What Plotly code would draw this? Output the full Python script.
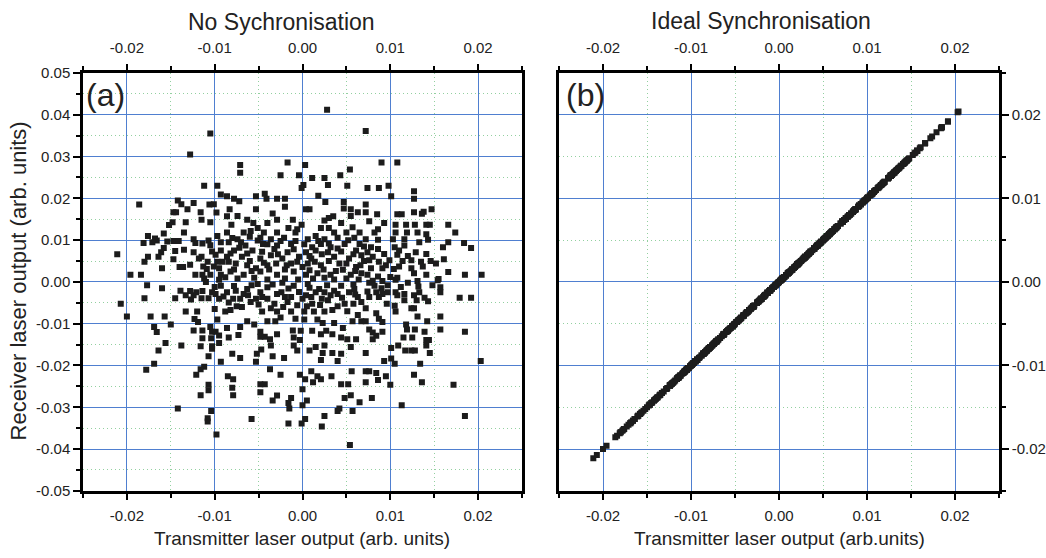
import plotly.graph_objects as go

# (transmitter output, receiver output) pairs for the unsynchronised case
points_a = [
    (-0.0105,0.0355),(-0.0128,0.0305),(-0.0112,0.0230),(-0.0097,0.0230),(-0.0093,0.0209),(-0.0186,0.0185),
    (-0.0142,0.0195),(-0.0138,0.0186),(-0.0124,0.0189),(-0.0106,0.0185),(-0.0101,0.0186),(-0.0147,0.0167),
    (-0.0144,0.0167),(-0.0131,0.0174),(-0.0116,0.0167),(-0.0098,0.0166),(-0.0148,0.0143),(-0.0133,0.0143),
    (-0.0115,0.0149),(-0.0105,0.0143),(-0.0152,0.0136),(-0.0135,0.0118),(-0.0158,0.0116),(-0.0176,0.0110),
    (-0.0168,0.0104),(-0.0166,0.0099),(-0.0181,0.0093),(-0.0171,0.0095),(-0.0154,0.0097),(-0.0147,0.0098),
    (-0.0141,0.0098),(-0.0124,0.0102),(-0.0122,0.0093),(-0.0114,0.0092),(-0.0107,0.0099),(-0.0105,0.0088),
    (-0.0097,0.0110),(-0.0093,0.0095),(-0.0158,0.0081),(-0.0145,0.0074),(-0.0135,0.0077),(-0.0124,0.0071),
    (-0.0161,0.0071),(-0.0211,0.0066),(-0.0176,0.0060),(-0.0164,0.0060),(-0.0118,0.0056),(-0.0103,0.0073),
    (-0.0099,0.0065),(-0.0093,0.0075),(-0.0180,0.0048),(-0.0147,0.0054),(-0.0140,0.0036),(-0.0136,0.0036),
    (-0.0160,0.0033),(-0.0128,0.0041),(-0.0113,0.0037),(-0.0109,0.0031),(-0.0101,0.0037),(-0.0095,0.0033),
    (-0.0196,0.0017),(-0.0184,0.0017),(-0.0122,0.0017),(-0.0114,0.0017),(-0.0105,0.0017),(-0.0093,0.0017),
    (-0.0091,0.0048),(-0.0097,0.0048),
    (0.0028,0.0412),(-0.0017,0.0286),(-0.0071,0.0280),(-0.0071,0.0261),(0.0003,0.0280),(0.0054,0.0269),
    (-0.0025,0.0255),(-0.0004,0.0255),(0.0011,0.0249),(0.0025,0.0249),(0.0043,0.0255),(0.0001,0.0232),
    (-0.0001,0.0225),(0.0029,0.0232),(0.0051,0.0230),(-0.0086,0.0205),(-0.0053,0.0205),(-0.0043,0.0211),
    (0.0018,0.0206),(-0.0072,0.0193),(-0.0078,0.0199),(-0.0041,0.0199),(-0.0029,0.0199),(-0.0020,0.0199),
    (-0.0020,0.0180),(0.0026,0.0191),(0.0047,0.0191),(0.0047,0.0176),(-0.0053,0.0174),(0.0004,0.0174),
    (0.0008,0.0174),(0.0055,0.0174),(0.0063,0.0167),(-0.0083,0.0174),(-0.0034,0.0164),(-0.0086,0.0157),
    (-0.0074,0.0158),(0.0035,0.0157),(0.0055,0.0158),(-0.0063,0.0149),(-0.0029,0.0149),(-0.0011,0.0149),
    (0.0025,0.0147),(0.0030,0.0153),(-0.0056,0.0141),(-0.0040,0.0141),(-0.0001,0.0137),(0.0044,0.0141),
    (-0.0081,0.0137),(-0.0051,0.0129),(-0.0016,0.0129),(-0.0006,0.0126),(0.0021,0.0129),(0.0030,0.0129),
    (0.0057,0.0131),(-0.0086,0.0118),(-0.0067,0.0118),(-0.0059,0.0122),(-0.0044,0.0118),(-0.0029,0.0118),
    (-0.0008,0.0118),(0.0015,0.0110),(0.0036,0.0118),(0.0050,0.0118),(0.0065,0.0118),(-0.0074,0.0102),
    (-0.0051,0.0099),(-0.0036,0.0102),(-0.0021,0.0106),(0.0006,0.0102),(0.0025,0.0102),(0.0040,0.0106),
    (0.0059,0.0106),(-0.0084,0.0095),(-0.0065,0.0087),(-0.0045,0.0091),(-0.0029,0.0087),(-0.0013,0.0091),
    (0.0011,0.0083),(0.0021,0.0091),(0.0032,0.0083),(0.0048,0.0091),(0.0065,0.0091),(-0.0078,0.0075),
    (-0.0057,0.0075),(-0.0032,0.0079),(-0.0017,0.0071),(0.0004,0.0071),(0.0015,0.0075),(0.0029,0.0071),
    (0.0044,0.0073),(0.0061,0.0075),(-0.0086,0.0060),(-0.0069,0.0060),(-0.0048,0.0056),(-0.0036,0.0064),
    (-0.0023,0.0056),(-0.0004,0.0060),(0.0010,0.0056),(0.0036,0.0060),(0.0053,0.0056),(0.0067,0.0064),
    (-0.0076,0.0044),(-0.0063,0.0040),(-0.0053,0.0033),(-0.0040,0.0040),(-0.0013,0.0044),(0.0000,0.0036),
    (0.0006,0.0044),(0.0021,0.0040),(0.0042,0.0044),(0.0061,0.0036),(-0.0082,0.0025),(-0.0067,0.0017),
    (-0.0048,0.0025),(-0.0029,0.0017),(-0.0010,0.0025),(0.0004,0.0017),(0.0017,0.0021),(0.0032,0.0017),
    (0.0046,0.0029),(0.0055,0.0017),(0.0067,0.0021),(-0.0088,0.0011),(0.0025,0.0010),
    (0.0072,0.0361),(0.0090,0.0286),(0.0108,0.0286),(0.0074,0.0225),(0.0087,0.0225),(0.0098,0.0230),
    (0.0101,0.0205),(0.0127,0.0217),(0.0127,0.0199),(0.0072,0.0185),(0.0072,0.0167),(0.0085,0.0162),
    (0.0108,0.0162),(0.0113,0.0162),(0.0127,0.0167),(0.0136,0.0163),(0.0138,0.0168),(0.0147,0.0174),
    (0.0076,0.0145),(0.0093,0.0141),(0.0106,0.0137),(0.0118,0.0137),(0.0128,0.0137),(0.0141,0.0137),
    (0.0145,0.0137),(0.0166,0.0137),(0.0086,0.0126),(0.0082,0.0118),(0.0106,0.0118),(0.0119,0.0118),
    (0.0131,0.0118),(0.0141,0.0114),(0.0174,0.0118),(0.0072,0.0102),(0.0086,0.0101),(0.0103,0.0102),
    (0.0116,0.0102),(0.0143,0.0101),(0.0078,0.0083),(0.0086,0.0079),(0.0105,0.0083),(0.0116,0.0087),
    (0.0133,0.0095),(0.0166,0.0095),(0.0160,0.0083),(0.0184,0.0093),(0.0192,0.0081),(0.0074,0.0071),
    (0.0093,0.0067),(0.0108,0.0065),(0.0129,0.0071),(0.0141,0.0067),(0.0076,0.0052),(0.0087,0.0048),
    (0.0099,0.0052),(0.0114,0.0050),(0.0124,0.0052),(0.0135,0.0048),(0.0146,0.0050),(0.0152,0.0044),
    (0.0161,0.0054),(0.0078,0.0033),(0.0091,0.0033),(0.0104,0.0031),(0.0110,0.0037),(0.0124,0.0033),
    (0.0137,0.0037),(0.0166,0.0024),(0.0185,0.0017),(0.0204,0.0017),(0.0074,0.0017),(0.0086,0.0013),
    (0.0108,0.0010),(0.0127,0.0021),(0.0141,0.0017),(0.0155,0.0007),
    (-0.0177,-0.0008),(-0.0160,-0.0015),(-0.0180,-0.0039),(-0.0207,-0.0052),(-0.0200,-0.0083),(-0.0173,-0.0083),
    (-0.0157,-0.0083),(-0.0169,-0.0108),(-0.0166,-0.0120),(-0.0150,-0.0102),(-0.0156,-0.0146),(-0.0164,-0.0164),
    (-0.0138,-0.0152),(-0.0169,-0.0196),(-0.0178,-0.0210),(-0.0145,-0.0039),(-0.0139,-0.0021),(-0.0133,-0.0032),
    (-0.0128,-0.0022),(-0.0127,-0.0042),(-0.0124,-0.0032),(-0.0121,-0.0025),(-0.0114,-0.0022),(-0.0115,-0.0039),
    (-0.0107,-0.0039),(-0.0103,-0.0025),(-0.0099,-0.0029),(-0.0093,-0.0009),(-0.0095,-0.0040),(-0.0133,-0.0071),
    (-0.0120,-0.0071),(-0.0100,-0.0065),(-0.0123,-0.0089),(-0.0119,-0.0096),(-0.0097,-0.0090),(-0.0105,-0.0108),
    (-0.0124,-0.0116),(-0.0114,-0.0116),(-0.0103,-0.0119),(-0.0099,-0.0119),(-0.0114,-0.0135),(-0.0104,-0.0135),
    (-0.0095,-0.0128),(-0.0095,-0.0146),(-0.0116,-0.0154),(-0.0103,-0.0154),(-0.0103,-0.0160),(-0.0107,-0.0178),
    (-0.0093,-0.0191),(-0.0112,-0.0203),(-0.0116,-0.0209),(-0.0121,-0.0222),(-0.0107,-0.0246),(-0.0107,-0.0259),
    (-0.0116,-0.0271),(-0.0142,-0.0303),(-0.0104,-0.0309),(-0.0108,-0.0326),(-0.0108,-0.0334),(-0.0098,-0.0365),
    (-0.0086,-0.0025),(-0.0076,-0.0021),(-0.0084,-0.0049),(-0.0071,-0.0040),(-0.0067,-0.0029),(-0.0063,-0.0017),
    (-0.0069,-0.0060),(-0.0059,-0.0048),(-0.0053,-0.0040),(-0.0051,-0.0005),(-0.0048,-0.0025),(-0.0040,-0.0013),
    (-0.0040,-0.0040),(-0.0032,-0.0052),(-0.0029,-0.0029),(-0.0024,-0.0025),(-0.0023,-0.0002),(-0.0017,-0.0048),
    (-0.0013,-0.0036),(-0.0010,-0.0009),(-0.0006,-0.0056),(0.0000,-0.0040),(0.0004,-0.0032),(0.0006,-0.0005),
    (0.0011,-0.0052),(0.0015,-0.0025),(0.0019,-0.0017),(0.0025,-0.0025),(0.0029,-0.0044),(0.0032,-0.0032),
    (0.0036,-0.0021),(0.0040,-0.0029),(0.0044,-0.0009),(0.0048,-0.0052),(0.0053,-0.0025),(0.0059,-0.0017),
    (0.0063,-0.0036),(0.0067,-0.0048),(-0.0088,-0.0071),(-0.0082,-0.0067),(-0.0046,-0.0071),(-0.0036,-0.0063),
    (-0.0029,-0.0071),(-0.0013,-0.0071),(0.0002,-0.0071),(0.0013,-0.0071),(0.0025,-0.0071),(0.0034,-0.0067),
    (0.0051,-0.0070),(0.0063,-0.0079),(-0.0055,-0.0102),(-0.0063,-0.0094),(-0.0040,-0.0094),(-0.0031,-0.0094),
    (-0.0025,-0.0085),(-0.0008,-0.0088),(0.0002,-0.0090),(0.0017,-0.0090),(0.0023,-0.0098),(0.0036,-0.0098),
    (0.0057,-0.0094),(0.0067,-0.0094),(-0.0086,-0.0110),(-0.0071,-0.0108),(-0.0084,-0.0133),(-0.0073,-0.0127),
    (-0.0048,-0.0119),(-0.0048,-0.0131),(-0.0043,-0.0131),(-0.0037,-0.0137),(-0.0029,-0.0125),(-0.0011,-0.0116),
    (-0.0002,-0.0117),(-0.0010,-0.0133),(-0.0003,-0.0139),(0.0011,-0.0117),(0.0021,-0.0125),(0.0027,-0.0117),
    (0.0034,-0.0125),(0.0044,-0.0133),(0.0051,-0.0137),(0.0061,-0.0137),(0.0046,-0.0110),(-0.0036,-0.0152),
    (-0.0047,-0.0162),(-0.0010,-0.0152),(-0.0006,-0.0164),(0.0008,-0.0164),(0.0015,-0.0156),(0.0025,-0.0152),
    (0.0055,-0.0156),(-0.0080,-0.0172),(-0.0071,-0.0182),(-0.0052,-0.0172),(-0.0053,-0.0191),(-0.0034,-0.0178),
    (-0.0021,-0.0182),(0.0023,-0.0170),(0.0034,-0.0170),(0.0044,-0.0172),(0.0021,-0.0187),(0.0040,-0.0189),
    (-0.0037,-0.0209),(-0.0025,-0.0222),(-0.0003,-0.0222),(0.0010,-0.0214),(0.0003,-0.0233),(0.0012,-0.0240),
    (0.0017,-0.0226),(0.0021,-0.0233),(0.0033,-0.0226),(0.0056,-0.0214),(-0.0085,-0.0226),(-0.0079,-0.0233),
    (-0.0080,-0.0253),(-0.0079,-0.0271),(-0.0048,-0.0245),(-0.0043,-0.0245),(-0.0048,-0.0264),(0.0044,-0.0245),
    (0.0052,-0.0245),(0.0000,-0.0257),(-0.0034,-0.0284),(-0.0029,-0.0272),(-0.0013,-0.0278),(-0.0016,-0.0290),
    (0.0005,-0.0284),(0.0000,-0.0295),(0.0048,-0.0278),(0.0055,-0.0271),(0.0065,-0.0288),(-0.0015,-0.0303),
    (0.0042,-0.0303),(0.0040,-0.0309),(0.0057,-0.0309),(0.0025,-0.0321),(-0.0058,-0.0328),(0.0003,-0.0328),
    (-0.0016,-0.0339),(-0.0001,-0.0339),(0.0022,-0.0346),(0.0054,-0.0390),
    (0.0076,-0.0002),(0.0082,-0.0009),(0.0091,0.0002),(0.0097,-0.0008),(0.0106,0.0005),(0.0120,-0.0002),
    (0.0131,0.0002),(0.0132,-0.0011),(0.0148,-0.0008),(0.0157,-0.0013),(0.0157,-0.0025),(0.0154,0.0004),
    (0.0074,-0.0023),(0.0084,-0.0025),(0.0091,-0.0029),(0.0097,-0.0025),(0.0076,-0.0036),(0.0087,-0.0036),
    (0.0106,-0.0025),(0.0108,-0.0032),(0.0116,-0.0029),(0.0116,-0.0044),(0.0127,-0.0032),(0.0130,-0.0044),
    (0.0133,-0.0025),(0.0139,-0.0038),(0.0143,-0.0046),(0.0179,-0.0038),(0.0192,-0.0038),(0.0096,-0.0052),
    (0.0105,-0.0057),(0.0106,-0.0071),(0.0072,-0.0063),(0.0124,-0.0063),(0.0127,-0.0063),(0.0131,-0.0083),
    (0.0157,-0.0083),(0.0084,-0.0075),(0.0087,-0.0088),(0.0091,-0.0096),(0.0072,-0.0094),(0.0142,-0.0094),
    (0.0118,-0.0102),(0.0076,-0.0114),(0.0080,-0.0121),(0.0084,-0.0129),(0.0080,-0.0137),(0.0091,-0.0119),
    (0.0119,-0.0114),(0.0128,-0.0114),(0.0139,-0.0119),(0.0157,-0.0114),(0.0185,-0.0119),(0.0115,-0.0133),
    (0.0125,-0.0133),(0.0141,-0.0139),(0.0144,-0.0139),(0.0109,-0.0152),(0.0141,-0.0152),(0.0101,-0.0158),
    (0.0117,-0.0164),(0.0124,-0.0164),(0.0128,-0.0164),(0.0145,-0.0170),(0.0072,-0.0170),(0.0093,-0.0189),
    (0.0101,-0.0183),(0.0105,-0.0196),(0.0134,-0.0196),(0.0203,-0.0189),(0.0072,-0.0214),(0.0076,-0.0214),
    (0.0084,-0.0218),(0.0086,-0.0235),(0.0095,-0.0226),(0.0072,-0.0240),(0.0100,-0.0246),(0.0127,-0.0222),
    (0.0136,-0.0240),(0.0172,-0.0246),(0.0079,-0.0278),(0.0113,-0.0295),(0.0185,-0.0321),
    # points estimated inside the dense central band
    (-0.0080,0.0105),(-0.0070,0.0095),(-0.0060,0.0108),(-0.0048,0.0106),(-0.0040,0.0090),(-0.0025,0.0098),
    (-0.0008,0.0098),(0.0002,0.0090),(0.0018,0.0098),(0.0030,0.0092),(0.0052,0.0100),(0.0070,0.0085),
    (-0.0082,0.0068),(-0.0072,0.0082),(-0.0063,0.0068),(-0.0046,0.0072),(-0.0028,0.0066),(-0.0010,0.0078),
    (0.0008,0.0062),(0.0022,0.0066),(0.0040,0.0080),(0.0058,0.0066),(0.0070,0.0050),(-0.0084,0.0048),
    (-0.0060,0.0050),(-0.0044,0.0046),(-0.0030,0.0044),(-0.0018,0.0040),(-0.0006,0.0048),(0.0014,0.0048),
    (0.0030,0.0050),(0.0050,0.0044),(0.0066,0.0040),(-0.0078,0.0030),(-0.0058,0.0026),(-0.0038,0.0030),
    (-0.0020,0.0030),(0.0008,0.0028),(0.0024,0.0030),(0.0038,0.0026),(0.0060,0.0026),(-0.0074,0.0008),
    (-0.0055,0.0010),(-0.0040,0.0006),(-0.0020,0.0008),(-0.0005,0.0006),(0.0012,0.0008),(0.0036,0.0006),
    (0.0050,0.0008),(0.0064,0.0006),(-0.0078,-0.0010),(-0.0058,-0.0008),(-0.0034,-0.0006),(-0.0016,-0.0016),
    (0.0008,-0.0014),(0.0028,-0.0008),(0.0058,-0.0006),(-0.0090,-0.0035),(-0.0079,-0.0040),(-0.0062,-0.0032),
    (-0.0046,-0.0036),(-0.0020,-0.0036),(-0.0004,-0.0024),(0.0010,-0.0036),(0.0022,-0.0040),(0.0045,-0.0038),
    (0.0060,-0.0030),(-0.0075,-0.0058),(-0.0050,-0.0054),(-0.0022,-0.0060),(0.0005,-0.0058),(0.0020,-0.0055),
    (0.0040,-0.0058),(0.0058,-0.0052),(-0.0110,0.0000),(-0.0100,-0.0012),(-0.0112,0.0008),(-0.0095,0.0005),
    (0.0080,0.0003),(0.0090,-0.0015),(0.0100,0.0012),(0.0112,-0.0012),(-0.0115,0.0060),(-0.0108,0.0048),
    (0.0080,0.0060),(0.0095,0.0040),(0.0120,0.0062),(0.0110,0.0075),
]

transmitter_a = [p[0] for p in points_a]
receiver_a = [p[1] for p in points_a]

# Ideal synchronisation: the receiver output equals the transmitter output
transmitter_b = transmitter_a
receiver_b = transmitter_a

x_ticks = [-0.02, -0.01, 0.0, 0.01, 0.02]
x_tick_labels = ["-0.02", "-0.01", "0.00", "0.01", "0.02"]
x_minor = [-0.025, -0.015, -0.005, 0.005, 0.015, 0.025]
ya_ticks = [0.05, 0.04, 0.03, 0.02, 0.01, 0.0, -0.01, -0.02, -0.03, -0.04, -0.05]
ya_tick_labels = ["0.05", "0.04", "0.03", "0.02", "0.01", "0.00", "-0.01", "-0.02", "-0.03", "-0.04", "-0.05"]
ya_minor = [0.045, 0.035, 0.025, 0.015, 0.005, -0.005, -0.015, -0.025, -0.035, -0.045]
yb_ticks = [0.02, 0.01, 0.0, -0.01, -0.02]
yb_tick_labels = ["0.02", "0.01", "0.00", "-0.01", "-0.02"]
yb_minor = [0.025, 0.015, 0.005, -0.005, -0.015, -0.025]

W, H = 1046, 558
FONT = "Liberation Sans, Arial, sans-serif"
MAJOR = "#4f7fd0"
MINOR = "#93d0a0"

def px(x):
    return x / W

def py(y):
    return 1 - y / H

marker = dict(symbol="square", size=6, color="#1c1c1c", line=dict(width=0))

fig = go.Figure()
fig.add_trace(go.Scatter(x=transmitter_a, y=receiver_a, mode="markers", marker=marker,
                         xaxis="x", yaxis="y", showlegend=False, hoverinfo="skip"))
fig.add_trace(go.Scatter(x=transmitter_b, y=receiver_b, mode="markers", marker=marker,
                         xaxis="x2", yaxis="y2", showlegend=False, hoverinfo="skip"))
# invisible carriers so that the top (mirrored) labelled axes are drawn
fig.add_trace(go.Scatter(x=[0], y=[0], mode="markers", marker=dict(opacity=0),
                         xaxis="x3", yaxis="y", showlegend=False, hoverinfo="skip"))
fig.add_trace(go.Scatter(x=[0], y=[0], mode="markers", marker=dict(opacity=0),
                         xaxis="x4", yaxis="y2", showlegend=False, hoverinfo="skip"))

tickfont = dict(family=FONT, size=15, color="#222")

def minor(vals, grid):
    d = dict(tickmode="array", tickvals=vals, ticks="outside", ticklen=4, tickwidth=2,
             tickcolor="black", showgrid=grid)
    if grid:
        d.update(gridcolor=MINOR, griddash="1px,3px", gridwidth=1)
    return d

def xbase(domain, standoff):
    return dict(domain=domain, range=[-0.025, 0.025], tickmode="array", tickvals=x_ticks,
                ticktext=x_tick_labels, ticks="outside", ticklen=6, tickwidth=2,
                tickcolor="black", showline=True, linecolor="black", linewidth=2.5,
                zeroline=False, tickfont=tickfont, fixedrange=True, ticklabelstandoff=standoff)

dom_a = [px(83), px(522)]
dom_b = [px(559), px(999)]
dom_y = [py(497), py(66)]

xa = xbase(dom_a, 3); xa.update(anchor="y", side="bottom", mirror=True, showgrid=True,
                                gridcolor=MAJOR, gridwidth=1, minor=minor(x_minor, True))
xa_top = xbase(dom_a, 5); xa_top.update(anchor="y", side="top", overlaying="x", showgrid=False,
                                        minor=minor(x_minor, False))
xb = xbase(dom_b, 3); xb.update(anchor="y2", side="bottom", mirror=True, showgrid=True,
                                gridcolor=MAJOR, gridwidth=1, minor=minor(x_minor, True))
xb_top = xbase(dom_b, 5); xb_top.update(anchor="y2", side="top", overlaying="x2", showgrid=False,
                                        minor=minor(x_minor, False))

ya = dict(domain=dom_y, anchor="x", side="left", range=[-0.05, 0.05], tickmode="array",
          tickvals=ya_ticks, ticktext=ya_tick_labels, ticks="outside", ticklen=7, tickwidth=2,
          tickcolor="black", showline=True, linecolor="black", linewidth=2.5, mirror=True,
          zeroline=False, showgrid=True, gridcolor=MAJOR, gridwidth=1, tickfont=tickfont,
          minor=minor(ya_minor, True), fixedrange=True)
yb = dict(domain=dom_y, anchor="x2", side="right", range=[-0.025, 0.025], tickmode="array",
          tickvals=yb_ticks, ticktext=yb_tick_labels, ticks="outside", ticklen=7, tickwidth=2,
          tickcolor="black", showline=True, linecolor="black", linewidth=2.5, mirror=True,
          zeroline=False, showgrid=True, gridcolor=MAJOR, gridwidth=1, tickfont=tickfont,
          minor=minor(yb_minor, True), fixedrange=True)

fig.update_layout(
    width=W, height=H, margin=dict(l=0, r=0, t=0, b=0),
    paper_bgcolor="white", plot_bgcolor="white",
    xaxis=xa, xaxis3=xa_top, xaxis2=xb, xaxis4=xb_top, yaxis=ya, yaxis2=yb,
    font=dict(family=FONT, color="#222"),
)

ann = [
    dict(text="No Sychronisation", x=px(281), y=py(13), size=23),
    dict(text="Ideal Synchronisation", x=px(761), y=py(12), size=23),
    dict(text="Transmitter laser output (arb. units)", x=px(302), y=py(546), size=19),
    dict(text="Transmitter laser output (arb.units)", x=px(779), y=py(546), size=19),
]
for a in ann:
    fig.add_annotation(text=a["text"], x=a["x"], y=a["y"], xref="paper", yref="paper",
                       showarrow=False, xanchor="center", yanchor="middle",
                       font=dict(family=FONT, size=a["size"], color="#222"))
fig.add_annotation(text="Receiver laser output (arb. units)", x=px(18), y=py(281),
                   xref="paper", yref="paper", showarrow=False, textangle=-90,
                   xanchor="center", yanchor="middle",
                   font=dict(family=FONT, size=22, color="#222"))
for lab, xx in [("(a)", 84), ("(b)", 564)]:
    fig.add_annotation(text=lab, x=px(xx), y=py(89), xref="paper", yref="paper",
                       showarrow=False, xanchor="left", yanchor="middle",
                       font=dict(family=FONT, size=32, color="#222"))

fig.write_html("out.html")
